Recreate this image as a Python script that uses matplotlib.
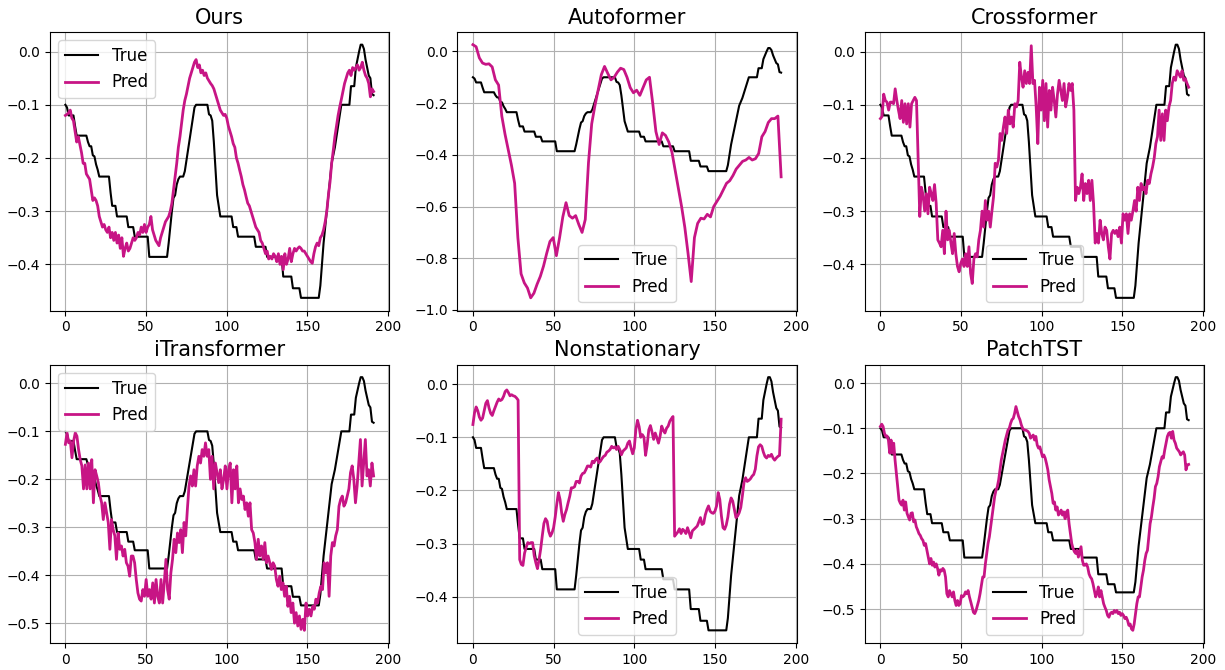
import numpy as np
import matplotlib
matplotlib.use("Agg")
import matplotlib.pyplot as plt

titles = ["Ours", "Autoformer", "Crossformer", "iTransformer", "Nonstationary", "PatchTST"]
legend_locs = ["upper left", "lower center", "lower center", "upper left", "lower center", "lower center"]

true_vals = [
    -0.100, -0.105, -0.120, -0.120, -0.120, -0.120, -0.140, -0.158, -0.158, -0.158,
    -0.158, -0.158, -0.158, -0.158, -0.170, -0.178, -0.178, -0.195, -0.197, -0.212,
    -0.222, -0.235, -0.235, -0.235, -0.235, -0.235, -0.235, -0.235, -0.265, -0.290,
    -0.290, -0.290, -0.310, -0.310, -0.310, -0.310, -0.310, -0.310, -0.310, -0.330,
    -0.330, -0.330, -0.330, -0.348, -0.348, -0.348, -0.348, -0.348, -0.348, -0.348,
    -0.348, -0.348, -0.386, -0.386, -0.386, -0.386, -0.386, -0.386, -0.386, -0.386,
    -0.386, -0.386, -0.386, -0.386, -0.360, -0.330, -0.300, -0.275, -0.270, -0.250,
    -0.240, -0.235, -0.235, -0.235, -0.225, -0.205, -0.185, -0.165, -0.145, -0.125,
    -0.105, -0.100, -0.100, -0.100, -0.100, -0.100, -0.100, -0.100, -0.100, -0.118,
    -0.120, -0.130, -0.170, -0.220, -0.270, -0.290, -0.310, -0.310, -0.310, -0.310,
    -0.310, -0.310, -0.310, -0.310, -0.330, -0.330, -0.330, -0.348, -0.348, -0.348,
    -0.348, -0.348, -0.348, -0.348, -0.348, -0.348, -0.348, -0.348, -0.367, -0.367,
    -0.367, -0.367, -0.367, -0.367, -0.367, -0.386, -0.386, -0.386, -0.386, -0.386,
    -0.386, -0.386, -0.386, -0.386, -0.386, -0.423, -0.423, -0.423, -0.423, -0.423,
    -0.423, -0.445, -0.445, -0.445, -0.445, -0.445, -0.463, -0.463, -0.463, -0.463,
    -0.463, -0.463, -0.463, -0.463, -0.463, -0.463, -0.463, -0.463, -0.440, -0.400,
    -0.360, -0.330, -0.300, -0.270, -0.240, -0.210, -0.195, -0.180, -0.160, -0.140,
    -0.120, -0.100, -0.100, -0.100, -0.100, -0.100, -0.100, -0.065, -0.065, -0.065,
    -0.030, -0.015, 0.000, 0.013, 0.013, 0.005, -0.015, -0.030, -0.045, -0.050,
    -0.080, -0.082,
]

pred_ours = [
    -0.12, -0.118, -0.115, -0.11, -0.125, -0.13, -0.15, -0.17, -0.16, -0.175,
    -0.19, -0.21, -0.21, -0.23, -0.235, -0.24, -0.26, -0.28, -0.275, -0.28,
    -0.29, -0.31, -0.32, -0.33, -0.325, -0.335, -0.34, -0.33, -0.35, -0.34,
    -0.355, -0.34, -0.36, -0.345, -0.37, -0.35, -0.385, -0.37, -0.36, -0.375,
    -0.37, -0.36, -0.35, -0.355, -0.35, -0.34, -0.345, -0.33, -0.34, -0.325,
    -0.34, -0.33, -0.325, -0.31, -0.335, -0.345, -0.355, -0.36, -0.365, -0.35,
    -0.34, -0.33, -0.32, -0.315, -0.31, -0.30, -0.285, -0.26, -0.235, -0.21,
    -0.18, -0.16, -0.135, -0.11, -0.092, -0.08, -0.065, -0.05, -0.04, -0.03,
    -0.02, -0.015, -0.03, -0.025, -0.04, -0.035, -0.045, -0.04, -0.05, -0.055,
    -0.06, -0.064, -0.07, -0.08, -0.09, -0.1, -0.11, -0.115, -0.12, -0.118,
    -0.125, -0.14, -0.15, -0.16, -0.173, -0.18, -0.2, -0.21, -0.223, -0.235,
    -0.25, -0.26, -0.273, -0.285, -0.29, -0.3, -0.31, -0.32, -0.33, -0.335,
    -0.34, -0.355, -0.36, -0.37, -0.38, -0.375, -0.39, -0.385, -0.39, -0.38,
    -0.385, -0.395, -0.38, -0.4, -0.385, -0.41, -0.38, -0.4, -0.39, -0.37,
    -0.395, -0.38, -0.37, -0.375, -0.37, -0.367, -0.37, -0.375, -0.375, -0.38,
    -0.385, -0.39, -0.395, -0.398, -0.38, -0.367, -0.36, -0.365, -0.35, -0.345,
    -0.335, -0.32, -0.3, -0.27, -0.245, -0.21, -0.186, -0.16, -0.14, -0.12,
    -0.104, -0.09, -0.075, -0.06, -0.05, -0.04, -0.035, -0.045, -0.03, -0.035,
    -0.03, -0.025, -0.035, -0.03, -0.02, -0.035, -0.045, -0.05, -0.06, -0.085,
    -0.07, -0.075,
]

pred_autoformer = [
    0.026, 0.018, -0.025, -0.045, -0.05, -0.048, -0.06, -0.11, -0.13, -0.25,
    -0.32, -0.38, -0.44, -0.51, -0.72, -0.86, -0.895, -0.915, -0.953, -0.935,
    -0.9, -0.87, -0.83, -0.78, -0.735, -0.72, -0.79, -0.72, -0.64, -0.585,
    -0.635, -0.645, -0.635, -0.67, -0.70, -0.65, -0.43, -0.28, -0.21, -0.15,
    -0.09, -0.058, -0.085, -0.11, -0.1, -0.08, -0.065, -0.07, -0.1, -0.14,
    -0.16, -0.15, -0.17, -0.14, -0.11, -0.1, -0.2, -0.31, -0.36, -0.315,
    -0.325, -0.35, -0.39, -0.46, -0.53, -0.6, -0.68, -0.78, -0.89, -0.72,
    -0.665, -0.645, -0.648, -0.63, -0.64, -0.6, -0.58, -0.56, -0.535, -0.51,
    -0.5, -0.48, -0.455, -0.44, -0.425, -0.42, -0.41, -0.42, -0.415, -0.395,
    -0.33, -0.31, -0.275, -0.26, -0.26, -0.25, -0.485,
]

pred_crossformer = [
    -0.126, -0.122, -0.08, -0.092, -0.095, -0.11, -0.095, -0.095, -0.098, -0.07,
    -0.092, -0.11, -0.126, -0.092, -0.133, -0.098, -0.136, -0.098, -0.142, -0.098,
    -0.092, -0.086, -0.092, -0.2, -0.31, -0.255, -0.27, -0.3, -0.267, -0.305,
    -0.255, -0.267, -0.28, -0.25, -0.285, -0.354, -0.36, -0.367, -0.336, -0.38,
    -0.3, -0.354, -0.336, -0.36, -0.38, -0.342, -0.38, -0.404, -0.414, -0.398,
    -0.39, -0.404, -0.38, -0.404, -0.367, -0.417, -0.436, -0.39, -0.38, -0.386,
    -0.354, -0.336, -0.3, -0.33, -0.28, -0.317, -0.3, -0.33, -0.3, -0.273,
    -0.21, -0.217, -0.204, -0.154, -0.167, -0.142, -0.123, -0.154, -0.11, -0.136,
    -0.123, -0.142, -0.098, -0.104, -0.092, -0.02, -0.048, -0.067, -0.036, -0.06,
    -0.039, -0.06, 0.011, -0.06, -0.054, -0.104, -0.173, -0.067, -0.11, -0.054,
    -0.13, -0.06, -0.142, -0.073, -0.11, -0.067, -0.092, -0.123, -0.08, -0.054,
    -0.073, -0.092, -0.06, -0.104, -0.086, -0.06, -0.073, -0.06, -0.11, -0.28,
    -0.255, -0.267, -0.255, -0.23, -0.28, -0.248, -0.267, -0.242, -0.28, -0.242,
    -0.286, -0.36, -0.342, -0.36, -0.317, -0.342, -0.354, -0.33, -0.336, -0.367,
    -0.39, -0.342, -0.336, -0.342, -0.336, -0.348, -0.33, -0.36, -0.305, -0.317,
    -0.305, -0.342, -0.305, -0.317, -0.3, -0.28, -0.3, -0.255, -0.28, -0.248,
    -0.26, -0.255, -0.267, -0.242, -0.248, -0.23, -0.217, -0.2, -0.173, -0.16,
    -0.11, -0.167, -0.117, -0.167, -0.11, -0.13, -0.104, -0.092, -0.06, -0.048,
    -0.054, -0.036, -0.042, -0.048, -0.036, -0.054, -0.051, -0.06, -0.067,
]

pred_itransformer = [
    -0.127, -0.103, -0.124, -0.12, -0.155, -0.12, -0.103, -0.11, -0.138, -0.159,
    -0.172, -0.22, -0.17, -0.22, -0.166, -0.22, -0.159, -0.249, -0.18, -0.193,
    -0.207, -0.235, -0.249, -0.284, -0.249, -0.27, -0.29, -0.346, -0.284, -0.305,
    -0.318, -0.367, -0.312, -0.346, -0.339, -0.36, -0.346, -0.374, -0.381, -0.402,
    -0.36, -0.36, -0.374, -0.409, -0.437, -0.45, -0.454, -0.43, -0.444, -0.409,
    -0.444, -0.43, -0.45, -0.416, -0.458, -0.409, -0.444, -0.458, -0.409, -0.458,
    -0.416, -0.367, -0.43, -0.45, -0.395, -0.367, -0.325, -0.353, -0.312, -0.332,
    -0.305, -0.353, -0.29, -0.318, -0.263, -0.214, -0.193, -0.214, -0.18, -0.214,
    -0.172, -0.152, -0.166, -0.138, -0.152, -0.124, -0.152, -0.138, -0.2, -0.152,
    -0.22, -0.166, -0.186, -0.207, -0.18, -0.22, -0.2, -0.172, -0.22, -0.18,
    -0.166, -0.249, -0.18, -0.22, -0.172, -0.249, -0.22, -0.242, -0.235, -0.263,
    -0.249, -0.277, -0.249, -0.305, -0.312, -0.332, -0.367, -0.325, -0.36, -0.339,
    -0.367, -0.332, -0.374, -0.36, -0.374, -0.388, -0.374, -0.381, -0.409, -0.423,
    -0.402, -0.43, -0.416, -0.444, -0.423, -0.465, -0.444, -0.478, -0.458, -0.5,
    -0.478, -0.506, -0.485, -0.513, -0.492, -0.515, -0.458, -0.485, -0.471, -0.485,
    -0.465, -0.471, -0.45, -0.458, -0.437, -0.423, -0.43, -0.374, -0.395, -0.374,
    -0.444, -0.36, -0.332, -0.339, -0.318, -0.305, -0.256, -0.242, -0.235, -0.256,
    -0.249, -0.235, -0.22, -0.186, -0.172, -0.2, -0.249, -0.214, -0.166, -0.117,
    -0.214, -0.166, -0.117, -0.193, -0.18, -0.214, -0.166, -0.193,
]

pred_nonstationary = [
    -0.076, -0.054, -0.043, -0.05, -0.062, -0.068, -0.064, -0.05, -0.036, -0.031,
    -0.045, -0.055, -0.059, -0.05, -0.042, -0.034, -0.028, -0.031, -0.029, -0.023,
    -0.014, -0.011, -0.016, -0.022, -0.02, -0.022, -0.023, -0.026, -0.03, -0.33,
    -0.339, -0.341, -0.318, -0.307, -0.298, -0.30, -0.298, -0.298, -0.323, -0.336,
    -0.347, -0.33, -0.31, -0.285, -0.262, -0.253, -0.258, -0.277, -0.286, -0.28,
    -0.27, -0.25, -0.225, -0.204, -0.217, -0.242, -0.258, -0.245, -0.236, -0.223,
    -0.211, -0.195, -0.195, -0.193, -0.183, -0.183, -0.186, -0.173, -0.168, -0.167,
    -0.161, -0.154, -0.154, -0.156, -0.145, -0.148, -0.142, -0.139, -0.148, -0.145,
    -0.14, -0.136, -0.134, -0.128, -0.126, -0.123, -0.117, -0.12, -0.118, -0.123,
    -0.117, -0.123, -0.133, -0.126, -0.123, -0.12, -0.111, -0.107, -0.12, -0.131,
    -0.12, -0.085, -0.068, -0.08, -0.1, -0.095, -0.1, -0.134, -0.114, -0.086,
    -0.078, -0.09, -0.104, -0.092, -0.101, -0.111, -0.098, -0.079, -0.087, -0.092,
    -0.083, -0.079, -0.07, -0.065, -0.061, -0.286, -0.282, -0.278, -0.272, -0.281,
    -0.273, -0.276, -0.281, -0.27, -0.279, -0.289, -0.276, -0.273, -0.27, -0.267,
    -0.259, -0.251, -0.264, -0.262, -0.246, -0.236, -0.229, -0.239, -0.242, -0.243,
    -0.239, -0.229, -0.204, -0.217, -0.248, -0.27, -0.273, -0.265, -0.25, -0.226,
    -0.214, -0.22, -0.235, -0.251, -0.248, -0.242, -0.232, -0.21, -0.185, -0.176,
    -0.183, -0.181, -0.178, -0.173, -0.17, -0.16, -0.135, -0.118, -0.114, -0.117,
    -0.128, -0.136, -0.139, -0.134, -0.136, -0.132, -0.139, -0.143, -0.139, -0.136,
    -0.134, -0.066,
]

pred_patchtst = [
    -0.096, -0.091, -0.096, -0.111, -0.118, -0.117, -0.126, -0.155, -0.126, -0.155,
    -0.133, -0.17, -0.2, -0.229, -0.259, -0.266, -0.27, -0.259, -0.281, -0.263,
    -0.288, -0.296, -0.303, -0.288, -0.287, -0.307, -0.303, -0.318, -0.325, -0.333,
    -0.337, -0.344, -0.348, -0.359, -0.355, -0.37, -0.385, -0.4, -0.388, -0.403,
    -0.396, -0.407, -0.4, -0.41, -0.425, -0.413, -0.416, -0.41, -0.414, -0.429,
    -0.466, -0.473, -0.459, -0.466, -0.473, -0.462, -0.481, -0.492, -0.481, -0.492,
    -0.488, -0.47, -0.473, -0.47, -0.462, -0.466, -0.459, -0.473, -0.484, -0.496,
    -0.507, -0.51, -0.503, -0.492, -0.481, -0.466, -0.447, -0.429, -0.429, -0.4,
    -0.377, -0.355, -0.34, -0.318, -0.296, -0.274, -0.251, -0.237, -0.229, -0.214,
    -0.192, -0.17, -0.155, -0.141, -0.126, -0.115, -0.104, -0.1, -0.089, -0.081,
    -0.078, -0.067, -0.052, -0.063, -0.074, -0.081, -0.092, -0.1, -0.104, -0.104,
    -0.105, -0.107, -0.111, -0.122, -0.118, -0.115, -0.126, -0.118, -0.137, -0.144,
    -0.141, -0.152, -0.163, -0.159, -0.166, -0.178, -0.192, -0.214, -0.229, -0.244,
    -0.266, -0.263, -0.281, -0.274, -0.292, -0.288, -0.281, -0.292, -0.285, -0.3,
    -0.285, -0.281, -0.311, -0.333, -0.355, -0.366, -0.373, -0.377, -0.37, -0.385,
    -0.373, -0.362, -0.392, -0.403, -0.403, -0.4, -0.407, -0.422, -0.429, -0.433,
    -0.444, -0.459, -0.473, -0.466, -0.451, -0.473, -0.459, -0.473, -0.488, -0.496,
    -0.503, -0.514, -0.518, -0.51, -0.507, -0.51, -0.503, -0.507, -0.503, -0.51,
    -0.507, -0.514, -0.51, -0.514, -0.521, -0.518, -0.525, -0.536, -0.533, -0.544,
    -0.547, -0.533, -0.51, -0.488, -0.473, -0.473, -0.451, -0.429, -0.414, -0.392,
    -0.377, -0.37, -0.34, -0.311, -0.296, -0.274, -0.255, -0.229, -0.222, -0.207,
    -0.185, -0.174, -0.163, -0.166, -0.148, -0.133, -0.118, -0.111, -0.109, -0.122,
    -0.107, -0.126, -0.133, -0.144, -0.148, -0.152, -0.159, -0.155, -0.152, -0.159,
    -0.192, -0.181, -0.18,
]

preds = [pred_ours, pred_autoformer, pred_crossformer,
         pred_itransformer, pred_nonstationary, pred_patchtst]

horizon = len(true_vals)  # 192 time steps
t_true = np.arange(horizon)

fig, axes = plt.subplots(2, 3, figsize=(12.25, 6.7), dpi=100)
fig.subplots_adjust(left=0.0408, right=0.9829, top=0.9522, bottom=0.0403,
                    wspace=0.202, hspace=0.194)

for ax, title, pred, loc in zip(axes.flat, titles, preds, legend_locs):
    t_pred = np.linspace(0, horizon - 1, len(pred))
    ax.plot(t_true, true_vals, color="black", lw=1.5, label="True")
    ax.plot(t_pred, pred, color="#c71585", lw=2.0, label="Pred")
    ax.set_title(title, fontsize=15)
    ax.grid(True)
    ax.tick_params(labelsize=10)
    ax.legend(loc=loc, fontsize=12)

fig.savefig("out.png", dpi=100)
